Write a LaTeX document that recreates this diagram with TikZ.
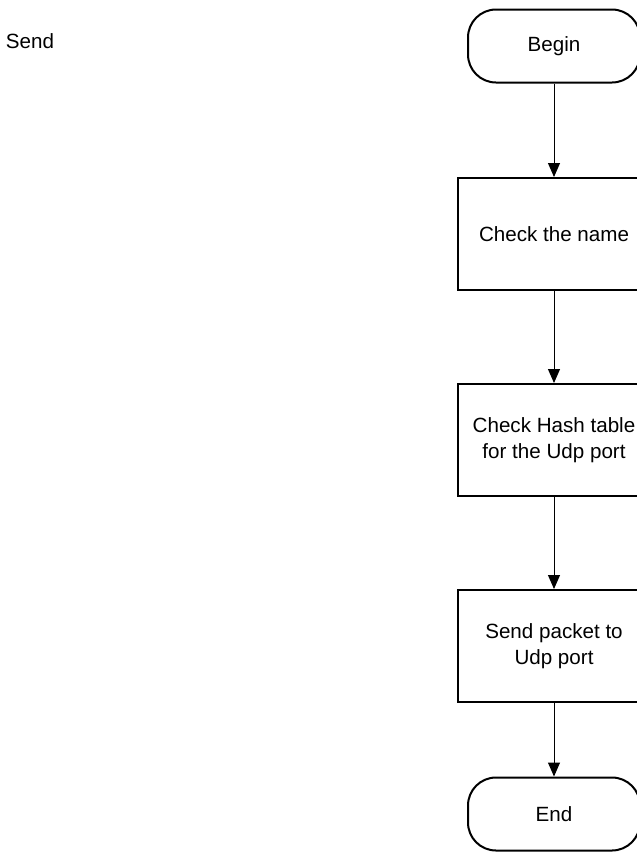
\documentclass[tikz,border=0pt]{standalone}
\usepackage{fontspec}
\setmainfont{Liberation Sans}
\usetikzlibrary{positioning,arrows.meta}

\begin{document}
\begin{tikzpicture}[%
    >={Triangle[length=7pt,width=6pt]}, % filled arrow heads
    node distance=103pt,                % box spacing (centre to centre)
    every node/.style={font=\fontsize{10.3}{13}\selectfont},
    ]
\tikzset{
  base/.style={draw, on grid, align=center, line width=1pt},
  proc/.style={base, rectangle, minimum width=96pt, minimum height=56pt},
  term/.style={base, rectangle, minimum width=86pt, minimum height=36.5pt, rounded corners=14pt},
  norm/.style={->, line width=0.5pt},
}
\useasboundingbox (0,0) rectangle (318.5pt,-426pt);

\node (title) at (15pt,-20.5pt) {Send};

\node [term] (s0) at (277pt,-23pt) {Begin};
\node [proc,below=94pt of s0] (s1) {Check the name};
\node [proc,below=of s1] (s2) {Check Hash table\\for the Udp port};
\node [proc,below=of s2] (s3) {Send packet to\\Udp port};
\node [term,below=84pt of s3] (s4) {End};

% connect
\draw [norm] (s0.south) -- (s1.north);
\draw [norm] (s1.south) -- (s2.north);
\draw [norm] (s2.south) -- (s3.north);
\draw [norm] (s3.south) -- (s4.north);

\end{tikzpicture}
\end{document}
